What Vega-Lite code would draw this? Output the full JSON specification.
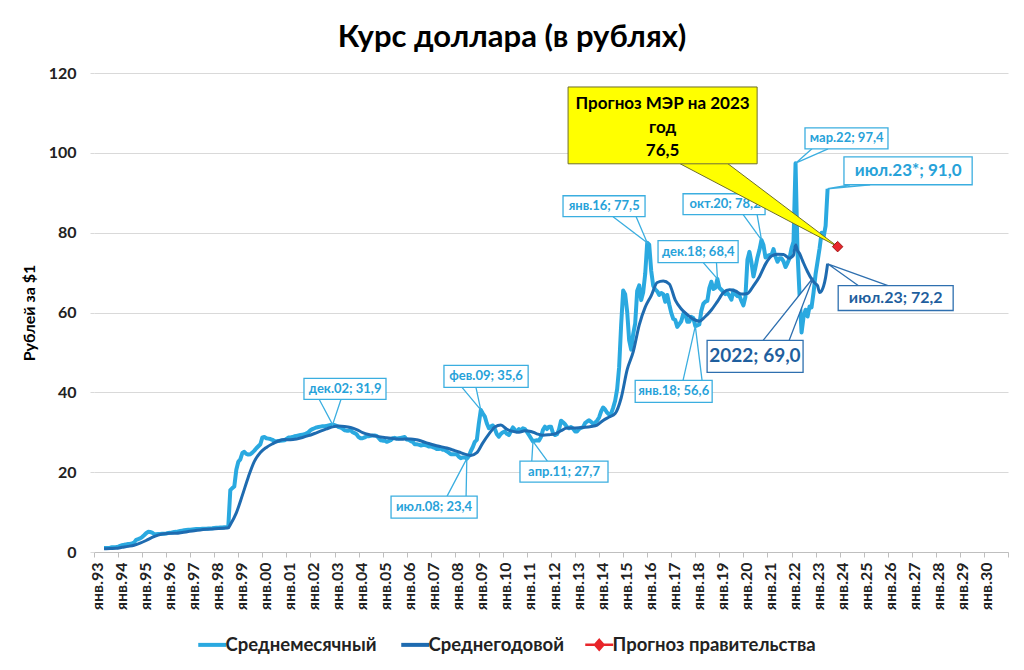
{
  "$schema": "https://vega.github.io/schema/vega-lite/v6.json",
  "width": 914,
  "height": 479,
  "autosize": {"type": "none"},
  "padding": {"left": 94, "top": 73, "right": 16, "bottom": 118},
  "background": "white",
  "config": {"view": {"stroke": null}, "font": "Lato"},
  "title": {"text": "Курс доллара (в рублях)", "font": "Lato", "fontSize": 31, "fontWeight": "bold", "color": "#000000", "anchor": "middle", "dx": -39, "dy": 42, "offset": 29, "baseline": "alphabetic"},
  "datasets": {
    "monthly": [
      {"t":1993.417,"v":1.0},{"t":1993.5,"v":1.02},{"t":1993.583,"v":1.0},{"t":1993.667,"v":1.05},{"t":1993.75,"v":1.18},{"t":1993.833,"v":1.19},{"t":1993.917,"v":1.24},
      {"t":1994,"v":1.32},{"t":1994.083,"v":1.55},{"t":1994.167,"v":1.72},{"t":1994.25,"v":1.8},{"t":1994.333,"v":1.9},{"t":1994.417,"v":1.98},{"t":1994.5,"v":2.05},{"t":1994.583,"v":2.14},{"t":1994.667,"v":2.36},{"t":1994.75,"v":3.05},{"t":1994.833,"v":3.2},{"t":1994.917,"v":3.4},
      {"t":1995,"v":3.75},{"t":1995.083,"v":4.2},{"t":1995.167,"v":4.7},{"t":1995.25,"v":5.05},{"t":1995.333,"v":5.0},{"t":1995.417,"v":4.85},{"t":1995.5,"v":4.5},{"t":1995.583,"v":4.45},{"t":1995.667,"v":4.5},{"t":1995.75,"v":4.5},{"t":1995.833,"v":4.55},{"t":1995.917,"v":4.6},
      {"t":1996,"v":4.65},{"t":1996.083,"v":4.75},{"t":1996.167,"v":4.8},{"t":1996.25,"v":4.9},{"t":1996.333,"v":5.0},{"t":1996.417,"v":5.05},{"t":1996.5,"v":5.15},{"t":1996.583,"v":5.25},{"t":1996.667,"v":5.35},{"t":1996.75,"v":5.45},{"t":1996.833,"v":5.5},{"t":1996.917,"v":5.55},
      {"t":1997,"v":5.6},{"t":1997.083,"v":5.65},{"t":1997.167,"v":5.7},{"t":1997.25,"v":5.75},{"t":1997.333,"v":5.77},{"t":1997.417,"v":5.78},{"t":1997.5,"v":5.8},{"t":1997.583,"v":5.82},{"t":1997.667,"v":5.84},{"t":1997.75,"v":5.86},{"t":1997.833,"v":5.88},{"t":1997.917,"v":5.93},
      {"t":1998,"v":6.0},{"t":1998.083,"v":6.05},{"t":1998.167,"v":6.1},{"t":1998.25,"v":6.12},{"t":1998.333,"v":6.15},{"t":1998.417,"v":6.2},{"t":1998.5,"v":6.23},{"t":1998.583,"v":6.3},{"t":1998.667,"v":15.5},{"t":1998.75,"v":16.0},{"t":1998.833,"v":16.4},{"t":1998.917,"v":20.6},
      {"t":1999,"v":22.6},{"t":1999.083,"v":23.2},{"t":1999.167,"v":24.8},{"t":1999.25,"v":25.1},{"t":1999.333,"v":24.6},{"t":1999.417,"v":24.4},{"t":1999.5,"v":24.5},{"t":1999.583,"v":24.9},{"t":1999.667,"v":25.4},{"t":1999.75,"v":26.0},{"t":1999.833,"v":26.5},{"t":1999.917,"v":27.0},
      {"t":2000,"v":28.7},{"t":2000.083,"v":28.8},{"t":2000.167,"v":28.5},{"t":2000.25,"v":28.4},{"t":2000.333,"v":28.3},{"t":2000.417,"v":28.1},{"t":2000.5,"v":27.8},{"t":2000.583,"v":27.75},{"t":2000.667,"v":27.8},{"t":2000.75,"v":27.85},{"t":2000.833,"v":27.9},{"t":2000.917,"v":28.0},
      {"t":2001,"v":28.3},{"t":2001.083,"v":28.7},{"t":2001.167,"v":28.7},{"t":2001.25,"v":28.8},{"t":2001.333,"v":29.0},{"t":2001.417,"v":29.1},{"t":2001.5,"v":29.2},{"t":2001.583,"v":29.3},{"t":2001.667,"v":29.4},{"t":2001.75,"v":29.5},{"t":2001.833,"v":29.7},{"t":2001.917,"v":30.0},
      {"t":2002,"v":30.5},{"t":2002.083,"v":30.8},{"t":2002.167,"v":31.0},{"t":2002.25,"v":31.2},{"t":2002.333,"v":31.3},{"t":2002.417,"v":31.4},{"t":2002.5,"v":31.5},{"t":2002.583,"v":31.5},{"t":2002.667,"v":31.6},{"t":2002.75,"v":31.7},{"t":2002.833,"v":31.8},{"t":2002.917,"v":31.9},
      {"t":2003,"v":31.8},{"t":2003.083,"v":31.6},{"t":2003.167,"v":31.3},{"t":2003.25,"v":31.2},{"t":2003.333,"v":30.9},{"t":2003.417,"v":30.5},{"t":2003.5,"v":30.4},{"t":2003.583,"v":30.4},{"t":2003.667,"v":30.6},{"t":2003.75,"v":30.0},{"t":2003.833,"v":29.8},{"t":2003.917,"v":29.5},
      {"t":2004,"v":28.8},{"t":2004.083,"v":28.5},{"t":2004.167,"v":28.5},{"t":2004.25,"v":28.7},{"t":2004.333,"v":29.0},{"t":2004.417,"v":29.0},{"t":2004.5,"v":29.1},{"t":2004.583,"v":29.2},{"t":2004.667,"v":29.2},{"t":2004.75,"v":29.1},{"t":2004.833,"v":28.6},{"t":2004.917,"v":28.0},
      {"t":2005,"v":27.9},{"t":2005.083,"v":27.9},{"t":2005.167,"v":27.6},{"t":2005.25,"v":27.8},{"t":2005.333,"v":28.0},{"t":2005.417,"v":28.5},{"t":2005.5,"v":28.6},{"t":2005.583,"v":28.4},{"t":2005.667,"v":28.5},{"t":2005.75,"v":28.6},{"t":2005.833,"v":28.7},{"t":2005.917,"v":28.8},
      {"t":2006,"v":28.2},{"t":2006.083,"v":28.1},{"t":2006.167,"v":27.8},{"t":2006.25,"v":27.6},{"t":2006.333,"v":27.0},{"t":2006.417,"v":27.0},{"t":2006.5,"v":26.9},{"t":2006.583,"v":26.7},{"t":2006.667,"v":26.8},{"t":2006.75,"v":26.8},{"t":2006.833,"v":26.7},{"t":2006.917,"v":26.4},
      {"t":2007,"v":26.5},{"t":2007.083,"v":26.3},{"t":2007.167,"v":26.1},{"t":2007.25,"v":25.8},{"t":2007.333,"v":25.8},{"t":2007.417,"v":25.9},{"t":2007.5,"v":25.6},{"t":2007.583,"v":25.6},{"t":2007.667,"v":25.2},{"t":2007.75,"v":24.9},{"t":2007.833,"v":24.5},{"t":2007.917,"v":24.5},
      {"t":2008,"v":24.5},{"t":2008.083,"v":24.5},{"t":2008.167,"v":23.9},{"t":2008.25,"v":23.5},{"t":2008.333,"v":23.7},{"t":2008.417,"v":23.7},{"t":2008.5,"v":23.4},{"t":2008.583,"v":24.0},{"t":2008.667,"v":25.3},{"t":2008.75,"v":26.3},{"t":2008.833,"v":27.6},{"t":2008.917,"v":28.1},
      {"t":2009,"v":32.2},{"t":2009.083,"v":35.6},{"t":2009.167,"v":34.7},{"t":2009.25,"v":33.9},{"t":2009.333,"v":32.2},{"t":2009.417,"v":31.0},{"t":2009.5,"v":31.5},{"t":2009.583,"v":31.7},{"t":2009.667,"v":30.8},{"t":2009.75,"v":29.5},{"t":2009.833,"v":28.9},{"t":2009.917,"v":29.6},
      {"t":2010,"v":30.0},{"t":2010.083,"v":30.2},{"t":2010.167,"v":29.6},{"t":2010.25,"v":29.3},{"t":2010.333,"v":30.3},{"t":2010.417,"v":31.2},{"t":2010.5,"v":30.6},{"t":2010.583,"v":30.2},{"t":2010.667,"v":30.8},{"t":2010.75,"v":30.4},{"t":2010.833,"v":31.0},{"t":2010.917,"v":30.8},
      {"t":2011,"v":30.1},{"t":2011.083,"v":29.3},{"t":2011.167,"v":28.5},{"t":2011.25,"v":27.7},{"t":2011.333,"v":27.9},{"t":2011.417,"v":28.0},{"t":2011.5,"v":27.9},{"t":2011.583,"v":28.8},{"t":2011.667,"v":30.6},{"t":2011.75,"v":31.4},{"t":2011.833,"v":30.8},{"t":2011.917,"v":31.4},
      {"t":2012,"v":31.4},{"t":2012.083,"v":29.8},{"t":2012.167,"v":29.3},{"t":2012.25,"v":29.5},{"t":2012.333,"v":30.7},{"t":2012.417,"v":32.9},{"t":2012.5,"v":32.5},{"t":2012.583,"v":32.0},{"t":2012.667,"v":31.3},{"t":2012.75,"v":31.0},{"t":2012.833,"v":31.3},{"t":2012.917,"v":30.9},
      {"t":2013,"v":30.2},{"t":2013.083,"v":30.2},{"t":2013.167,"v":30.8},{"t":2013.25,"v":31.1},{"t":2013.333,"v":31.3},{"t":2013.417,"v":32.3},{"t":2013.5,"v":32.7},{"t":2013.583,"v":33.0},{"t":2013.667,"v":32.6},{"t":2013.75,"v":32.1},{"t":2013.833,"v":32.4},{"t":2013.917,"v":32.9},
      {"t":2014,"v":33.7},{"t":2014.083,"v":35.2},{"t":2014.167,"v":36.2},{"t":2014.25,"v":35.7},{"t":2014.333,"v":34.9},{"t":2014.417,"v":34.4},{"t":2014.5,"v":34.7},{"t":2014.583,"v":36.1},{"t":2014.667,"v":37.9},{"t":2014.75,"v":40.8},{"t":2014.833,"v":46.3},{"t":2014.917,"v":57.0},
      {"t":2015,"v":65.5},{"t":2015.083,"v":64.6},{"t":2015.167,"v":60.2},{"t":2015.25,"v":53.0},{"t":2015.333,"v":50.7},{"t":2015.417,"v":54.6},{"t":2015.5,"v":57.3},{"t":2015.583,"v":65.4},{"t":2015.667,"v":66.8},{"t":2015.75,"v":63.1},{"t":2015.833,"v":65.1},{"t":2015.917,"v":69.7},
      {"t":2016,"v":77.5},{"t":2016.083,"v":77.0},{"t":2016.167,"v":70.4},{"t":2016.25,"v":66.7},{"t":2016.333,"v":65.8},{"t":2016.417,"v":65.3},{"t":2016.5,"v":64.4},{"t":2016.583,"v":64.9},{"t":2016.667,"v":64.6},{"t":2016.75,"v":62.7},{"t":2016.833,"v":64.4},{"t":2016.917,"v":62.0},
      {"t":2017,"v":59.9},{"t":2017.083,"v":58.4},{"t":2017.167,"v":58.1},{"t":2017.25,"v":56.4},{"t":2017.333,"v":57.1},{"t":2017.417,"v":57.8},{"t":2017.5,"v":59.7},{"t":2017.583,"v":59.7},{"t":2017.667,"v":57.7},{"t":2017.75,"v":57.7},{"t":2017.833,"v":58.9},{"t":2017.917,"v":58.6},
      {"t":2018,"v":56.6},{"t":2018.083,"v":56.8},{"t":2018.167,"v":57.0},{"t":2018.25,"v":60.4},{"t":2018.333,"v":62.2},{"t":2018.417,"v":62.7},{"t":2018.5,"v":62.9},{"t":2018.583,"v":66.1},{"t":2018.667,"v":67.7},{"t":2018.75,"v":65.9},{"t":2018.833,"v":66.2},{"t":2018.917,"v":68.4},
      {"t":2019,"v":66.2},{"t":2019.083,"v":65.7},{"t":2019.167,"v":65.2},{"t":2019.25,"v":64.6},{"t":2019.333,"v":64.9},{"t":2019.417,"v":64.2},{"t":2019.5,"v":63.2},{"t":2019.583,"v":65.5},{"t":2019.667,"v":64.6},{"t":2019.75,"v":64.1},{"t":2019.833,"v":64.2},{"t":2019.917,"v":62.9},
      {"t":2020,"v":61.8},{"t":2020.083,"v":63.9},{"t":2020.167,"v":73.2},{"t":2020.25,"v":75.2},{"t":2020.333,"v":72.6},{"t":2020.417,"v":69.0},{"t":2020.5,"v":71.3},{"t":2020.583,"v":73.8},{"t":2020.667,"v":75.7},{"t":2020.75,"v":78.2},{"t":2020.833,"v":76.9},{"t":2020.917,"v":73.8},
      {"t":2021,"v":74.2},{"t":2021.083,"v":74.4},{"t":2021.167,"v":74.4},{"t":2021.25,"v":75.9},{"t":2021.333,"v":74.0},{"t":2021.417,"v":72.7},{"t":2021.5,"v":73.6},{"t":2021.583,"v":73.6},{"t":2021.667,"v":72.8},{"t":2021.75,"v":71.4},{"t":2021.833,"v":72.4},{"t":2021.917,"v":73.6},
      {"t":2022,"v":76.1},{"t":2022.083,"v":77.8},{"t":2022.167,"v":97.4},{"t":2022.25,"v":75.0},{"t":2022.333,"v":64.6},{"t":2022.417,"v":55.0},{"t":2022.5,"v":58.9},{"t":2022.583,"v":60.7},{"t":2022.667,"v":59.0},{"t":2022.75,"v":61.5},{"t":2022.833,"v":61.3},{"t":2022.917,"v":65.1},
      {"t":2023,"v":69.6},{"t":2023.083,"v":72.8},{"t":2023.167,"v":76.1},{"t":2023.25,"v":80.0},{"t":2023.333,"v":78.9},{"t":2023.417,"v":81.7},{"t":2023.5,"v":91.0}
    ],
    "yearly": [
      {"t":1993.417,"v":0.8},{"t":1993.667,"v":0.87},{"t":1993.917,"v":0.92},
      {"t":1994.167,"v":1.17},{"t":1994.417,"v":1.41},{"t":1994.667,"v":1.7},{"t":1994.917,"v":2.21},
      {"t":1995.167,"v":2.88},{"t":1995.417,"v":3.65},{"t":1995.667,"v":4.22},{"t":1995.917,"v":4.55},
      {"t":1996.167,"v":4.68},{"t":1996.417,"v":4.69},{"t":1996.667,"v":4.88},{"t":1996.917,"v":5.12},
      {"t":1997.167,"v":5.35},{"t":1997.417,"v":5.54},{"t":1997.667,"v":5.68},{"t":1997.917,"v":5.78},
      {"t":1998.167,"v":5.88},{"t":1998.417,"v":5.98},{"t":1998.583,"v":6.06},{"t":1998.667,"v":6.86},{"t":1998.917,"v":9.8},
      {"t":1999.167,"v":14.18},{"t":1999.417,"v":18.81},{"t":1999.667,"v":22.71},{"t":1999.917,"v":24.92},
      {"t":2000.167,"v":26.2},{"t":2000.417,"v":27.09},{"t":2000.667,"v":27.8},{"t":2000.917,"v":28.16},
      {"t":2001.167,"v":28.13},{"t":2001.417,"v":28.31},{"t":2001.667,"v":28.69},{"t":2001.917,"v":29.14},
      {"t":2002.167,"v":29.69},{"t":2002.417,"v":30.28},{"t":2002.667,"v":30.83},{"t":2002.917,"v":31.35},
      {"t":2003.167,"v":31.55},{"t":2003.417,"v":31.44},{"t":2003.667,"v":31.18},{"t":2003.917,"v":30.67},
      {"t":2004.167,"v":29.93},{"t":2004.417,"v":29.43},{"t":2004.667,"v":29.11},{"t":2004.917,"v":28.81},
      {"t":2005.167,"v":28.61},{"t":2005.417,"v":28.41},{"t":2005.667,"v":28.24},{"t":2005.917,"v":28.28},
      {"t":2006.167,"v":28.33},{"t":2006.417,"v":28.11},{"t":2006.667,"v":27.68},{"t":2006.917,"v":27.17},
      {"t":2007.167,"v":26.73},{"t":2007.417,"v":26.39},{"t":2007.667,"v":26.06},{"t":2007.917,"v":25.56},
      {"t":2008.167,"v":25.06},{"t":2008.417,"v":24.51},{"t":2008.667,"v":24.2},{"t":2008.917,"v":24.88},
      {"t":2009.167,"v":27.34},{"t":2009.417,"v":29.53},{"t":2009.667,"v":31.3},{"t":2009.917,"v":31.8},
      {"t":2010.167,"v":30.74},{"t":2010.417,"v":30.22},{"t":2010.667,"v":30.02},{"t":2010.917,"v":30.37},
      {"t":2011.167,"v":30.21},{"t":2011.417,"v":29.61},{"t":2011.667,"v":29.25},{"t":2011.917,"v":29.37},
      {"t":2012.167,"v":29.58},{"t":2012.417,"v":30.38},{"t":2012.667,"v":31.08},{"t":2012.917,"v":31.05},
      {"t":2013.167,"v":31.11},{"t":2013.417,"v":31.24},{"t":2013.667,"v":31.45},{"t":2013.917,"v":31.8},
      {"t":2014.167,"v":32.96},{"t":2014.417,"v":33.82},{"t":2014.667,"v":34.68},{"t":2014.917,"v":38.58},
      {"t":2015.167,"v":45.68},{"t":2015.417,"v":50.12},{"t":2015.667,"v":56.85},{"t":2015.917,"v":61.33},
      {"t":2016.167,"v":64.22},{"t":2016.417,"v":67.51},{"t":2016.667,"v":67.88},{"t":2016.917,"v":67.14},
      {"t":2017.167,"v":63.1},{"t":2017.417,"v":60.89},{"t":2017.667,"v":59.49},{"t":2017.917,"v":58.33},
      {"t":2018.167,"v":57.83},{"t":2018.417,"v":59.0},{"t":2018.667,"v":60.63},{"t":2018.917,"v":62.74},
      {"t":2019.167,"v":64.97},{"t":2019.417,"v":65.67},{"t":2019.667,"v":65.38},{"t":2019.917,"v":64.61},
      {"t":2020.167,"v":64.76},{"t":2020.417,"v":66.68},{"t":2020.667,"v":68.98},{"t":2020.917,"v":72.12},
      {"t":2021.167,"v":74.13},{"t":2021.417,"v":74.61},{"t":2021.667,"v":74.54},{"t":2021.917,"v":73.58},
      {"t":2022,"v":73.9},{"t":2022.083,"v":74.4},{"t":2022.167,"v":77.0},{"t":2022.25,"v":75.5},{"t":2022.333,"v":74.8},{"t":2022.417,"v":73.6},{"t":2022.5,"v":72.4},{"t":2022.667,"v":70.2},{"t":2022.833,"v":68.4},{"t":2022.917,"v":67.7},
      {"t":2023,"v":67.2},{"t":2023.083,"v":66.7},{"t":2023.167,"v":65.0},{"t":2023.25,"v":65.4},{"t":2023.333,"v":66.6},{"t":2023.417,"v":68.8},{"t":2023.5,"v":72.2}
    ],
    "forecast": [{"t": 2023.917, "v": 76.5}],
    "pointers": [
      {"id":"A","kind":"m","ord":1,"t":2002.36,"v":38.25},{"id":"A","kind":"m","ord":2,"t":2002.92,"v":31.9},{"id":"A","kind":"m","ord":3,"t":2003.27,"v":38.25},
      {"id":"B","kind":"m","ord":1,"t":2008.3,"v":41.25},{"id":"B","kind":"m","ord":2,"t":2009.08,"v":35.6},{"id":"B","kind":"m","ord":3,"t":2008.88,"v":41.25},
      {"id":"C","kind":"m","ord":1,"t":2007.68,"v":14.0},{"id":"C","kind":"m","ord":2,"t":2008.5,"v":23.4},{"id":"C","kind":"m","ord":3,"t":2008.47,"v":14.0},
      {"id":"D","kind":"m","ord":1,"t":2011.2,"v":22.75},{"id":"D","kind":"m","ord":2,"t":2011.25,"v":27.7},{"id":"D","kind":"m","ord":3,"t":2011.85,"v":22.75},
      {"id":"E","kind":"m","ord":1,"t":2014.58,"v":84.0},{"id":"E","kind":"m","ord":2,"t":2016.0,"v":77.5},{"id":"E","kind":"m","ord":3,"t":2015.54,"v":84.0},
      {"id":"F","kind":"m","ord":1,"t":2018.33,"v":72.5},{"id":"F","kind":"m","ord":2,"t":2018.92,"v":68.4},{"id":"F","kind":"m","ord":3,"t":2018.88,"v":72.5},
      {"id":"G","kind":"m","ord":1,"t":2017.49,"v":43.0},{"id":"G","kind":"m","ord":2,"t":2018.0,"v":56.6},{"id":"G","kind":"m","ord":3,"t":2018.28,"v":43.0},
      {"id":"H","kind":"m","ord":1,"t":2019.99,"v":84.5},{"id":"H","kind":"m","ord":2,"t":2020.75,"v":78.2},{"id":"H","kind":"m","ord":3,"t":2020.57,"v":84.5},
      {"id":"I","kind":"m","ord":1,"t":2022.85,"v":101.0},{"id":"I","kind":"m","ord":2,"t":2022.17,"v":97.4},{"id":"I","kind":"m","ord":3,"t":2023.52,"v":101.0},
      {"id":"J","kind":"m","ord":1,"t":2024.43,"v":92.0},{"id":"J","kind":"m","ord":2,"t":2023.5,"v":91.0},{"id":"J","kind":"m","ord":3,"t":2025.27,"v":92.0},
      {"id":"K","kind":"y","ord":1,"t":2024.77,"v":66.75},{"id":"K","kind":"y","ord":2,"t":2023.5,"v":72.2},{"id":"K","kind":"y","ord":3,"t":2026.01,"v":66.75},
      {"id":"L","kind":"y","ord":1,"t":2020.82,"v":53.0},{"id":"L","kind":"y","ord":2,"t":2022.9,"v":68.7},{"id":"L","kind":"y","ord":3,"t":2021.9,"v":53.0},
      {"id":"M","kind":"f","ord":1,"t":2017.37,"v":97.25},{"id":"M","kind":"f","ord":2,"t":2023.92,"v":76.5},{"id":"M","kind":"f","ord":3,"t":2019.36,"v":97.25}
    ],
    "boxes": [
      {"kind":"m","t":2001.73,"t2":2005.14,"v":38.25,"v2":43.5},
      {"kind":"m","t":2007.55,"t2":2011.05,"v":41.25,"v2":46.75},
      {"kind":"m","t":2005.35,"t2":2008.93,"v":8.5,"v2":14.0},
      {"kind":"m","t":2010.71,"t2":2014.37,"v":17.5,"v2":22.75},
      {"kind":"m","t":2012.5,"t2":2015.91,"v":84.0,"v2":89.25},
      {"kind":"m","t":2016.45,"t2":2019.78,"v":72.5,"v2":78.0},
      {"kind":"m","t":2015.5,"t2":2018.7,"v":37.5,"v2":43.0},
      {"kind":"m","t":2017.49,"t2":2020.9,"v":84.5,"v2":89.75},
      {"kind":"m","t":2022.56,"t2":2026.01,"v":101.0,"v2":106.25},
      {"kind":"m","t":2024.18,"t2":2029.51,"v":92.0,"v2":99.0},
      {"kind":"y","t":2023.94,"t2":2028.72,"v":60.5,"v2":66.75},
      {"kind":"y","t":2018.49,"t2":2022.48,"v":45.0,"v2":53.0},
      {"kind":"f","t":2012.71,"t2":2020.57,"v":97.25,"v2":116.5}
    ],
    "labels": [
      {"kind":"m","t":2003.44,"v":40.9,"text":"дек.02; 31,9"},
      {"kind":"m","t":2009.3,"v":44.0,"text":"фев.09; 35,6"},
      {"kind":"m","t":2007.14,"v":11.25,"text":"июл.08; 23,4"},
      {"kind":"m","t":2012.54,"v":20.1,"text":"апр.11; 27,7"},
      {"kind":"m","t":2014.21,"v":86.6,"text":"янв.16; 77,5"},
      {"kind":"m","t":2018.12,"v":75.25,"text":"дек.18; 68,4"},
      {"kind":"m","t":2017.1,"v":40.25,"text":"янв.18; 56,6"},
      {"kind":"m","t":2019.24,"v":87.1,"text":"окт.20; 78,2"},
      {"kind":"m","t":2024.29,"v":103.6,"text":"мар.22; 97,4"},
      {"kind":"m2","t":2026.85,"v":95.5,"text":"июл.23*; 91,0"},
      {"kind":"y","t":2026.33,"v":63.6,"text":"июл.23; 72,2"},
      {"kind":"y2","t":2020.48,"v":49.0,"text":"2022; 69,0"},
      {"kind":"f","t":2016.64,"v":112.25,"text":"Прогноз МЭР на 2023"},
      {"kind":"f","t":2016.64,"v":106.25,"text":"год"},
      {"kind":"f","t":2016.64,"v":100.5,"text":"76,5"}
    ]
  },
  "encoding": {
    "x": {
      "field": "t", "type": "quantitative",
      "scale": {"domain": [1993, 2031], "nice": false, "zero": false},
      "axis": {
        "title": null, "grid": false,
        "values": [1993,1994,1995,1996,1997,1998,1999,2000,2001,2002,2003,2004,2005,2006,2007,2008,2009,2010,2011,2012,2013,2014,2015,2016,2017,2018,2019,2020,2021,2022,2023,2024,2025,2026,2027,2028,2029,2030,2031],
        "labelExpr": "datum.value > 2030 ? '' : 'янв.' + substring(toString(datum.value), 2, 4)",
        "labelAngle": -90, "labelFont": "Lato", "labelFontSize": 16, "labelFontWeight": "bold", "labelColor": "#222222",
        "labelPadding": 5, "labelOffset": 3, "labelOverlap": false, "labelBound": false, "labelFlush": false,
        "ticks": true, "tickSize": 5, "tickColor": "#BFBFBF", "domainColor": "#BFBFBF", "domainWidth": 1
      }
    },
    "y": {
      "field": "v", "type": "quantitative",
      "scale": {"domain": [0, 120], "nice": false, "zero": true},
      "axis": {
        "title": "Рублей за $1", "titleFont": "Lato", "titleFontSize": 16, "titleFontWeight": "bold", "titleColor": "#000000", "titlePadding": 11,
        "values": [0, 20, 40, 60, 80, 100, 120],
        "labelFont": "Lato", "labelFontSize": 16, "labelFontWeight": "bold", "labelColor": "#222222", "labelPadding": 14,
        "ticks": true, "tickSize": 4, "tickColor": "#D9D9D9", "domain": false,
        "grid": true, "gridColor": "#D9D9D9", "gridWidth": 1
      }
    }
  },
  "layer": [
    {
      "data": {"name": "monthly"},
      "mark": {"type": "line", "strokeWidth": 4, "strokeJoin": "round"},
      "encoding": {
        "color": {
          "datum": "Среднемесячный", "type": "nominal",
          "scale": {"domain": ["Среднемесячный", "Среднегодовой", "Прогноз правительства"], "range": ["#2AA9E0", "#1E6BB0", "#E8262B"]},
          "legend": {
            "orient": "none", "legendX": 109, "legendY": 562, "direction": "horizontal", "title": null,
            "symbolType": "stroke", "symbolSize": 784, "symbolStrokeWidth": 4,
            "labelFont": "Lato", "labelFontSize": 18.5, "labelFontWeight": "bold", "labelColor": "#222222",
            "labelOffset": 4, "columnPadding": 16, "labelLimit": 400,
            "encode": {
              "symbols": {
                "update": {
                  "shape": {"signal": "datum.label === 'Прогноз правительства' ? 'M-1,0L-0.3,0M0.3,0L1,0M0,-0.34L0.3,0L0,0.34L-0.3,0Z' : 'stroke'"},
                  "fill": {"signal": "datum.label === 'Прогноз правительства' ? '#E8262B' : 'transparent'"},
                  "stroke": {"signal": "datum.label === 'Прогноз правительства' ? '#8064A2' : (datum.label === 'Среднемесячный' ? '#2AA9E0' : '#1E6BB0')"},
                  "strokeWidth": {"signal": "datum.label === 'Прогноз правительства' ? 2.5 : 4"}
                }
              }
            }
          }
        }
      }
    },
    {
      "data": {"name": "yearly"},
      "mark": {"type": "line", "strokeWidth": 3, "interpolate": "monotone"},
      "encoding": {"color": {"datum": "Среднегодовой", "type": "nominal"}}
    },
    {
      "data": {"name": "pointers"},
      "transform": [{"filter": "datum.kind === 'm'"}],
      "mark": {"type": "line", "fill": "white", "stroke": "#3BAEE0", "strokeWidth": 1.3},
      "encoding": {"detail": {"field": "id"}, "order": {"field": "ord", "type": "quantitative"}}
    },
    {
      "data": {"name": "pointers"},
      "transform": [{"filter": "datum.kind === 'y'"}],
      "mark": {"type": "line", "fill": "white", "stroke": "#2E6FAF", "strokeWidth": 1.3},
      "encoding": {"detail": {"field": "id"}, "order": {"field": "ord", "type": "quantitative"}}
    },
    {
      "data": {"name": "boxes"},
      "transform": [{"filter": "datum.kind === 'm'"}],
      "mark": {"type": "rect", "fill": "white", "stroke": "#3BAEE0", "strokeWidth": 1.3},
      "encoding": {"x2": {"field": "t2"}, "y2": {"field": "v2"}}
    },
    {
      "data": {"name": "boxes"},
      "transform": [{"filter": "datum.kind === 'y'"}],
      "mark": {"type": "rect", "fill": "white", "stroke": "#2E6FAF", "strokeWidth": 1.3},
      "encoding": {"x2": {"field": "t2"}, "y2": {"field": "v2"}}
    },
    {
      "data": {"name": "labels"},
      "transform": [{"filter": "datum.kind === 'm'"}],
      "mark": {"type": "text", "font": "Lato", "fontSize": 13, "fontWeight": "bold", "color": "#27A2D9", "align": "center", "baseline": "middle"},
      "encoding": {"text": {"field": "text"}}
    },
    {
      "data": {"name": "labels"},
      "transform": [{"filter": "datum.kind === 'm2'"}],
      "mark": {"type": "text", "font": "Lato", "fontSize": 17, "fontWeight": "bold", "color": "#27A2D9", "align": "center", "baseline": "middle"},
      "encoding": {"text": {"field": "text"}}
    },
    {
      "data": {"name": "labels"},
      "transform": [{"filter": "datum.kind === 'y'"}],
      "mark": {"type": "text", "font": "Lato", "fontSize": 16, "fontWeight": "bold", "color": "#1F5F9E", "align": "center", "baseline": "middle"},
      "encoding": {"text": {"field": "text"}}
    },
    {
      "data": {"name": "labels"},
      "transform": [{"filter": "datum.kind === 'y2'"}],
      "mark": {"type": "text", "font": "Lato", "fontSize": 19, "fontWeight": "bold", "color": "#1F5F9E", "align": "center", "baseline": "middle"},
      "encoding": {"text": {"field": "text"}}
    },
    {
      "data": {"name": "pointers"},
      "transform": [{"filter": "datum.kind === 'f'"}],
      "mark": {"type": "line", "fill": "#FFFF00", "stroke": "#6E6E2A", "strokeWidth": 1},
      "encoding": {"detail": {"field": "id"}, "order": {"field": "ord", "type": "quantitative"}}
    },
    {
      "data": {"name": "boxes"},
      "transform": [{"filter": "datum.kind === 'f'"}],
      "mark": {"type": "rect", "fill": "#FFFF00", "stroke": "#6E6E2A", "strokeWidth": 1},
      "encoding": {"x2": {"field": "t2"}, "y2": {"field": "v2"}}
    },
    {
      "data": {"name": "labels"},
      "transform": [{"filter": "datum.kind === 'f'"}],
      "mark": {"type": "text", "font": "Lato", "fontSize": 17, "fontWeight": "bold", "color": "#000000", "align": "center", "baseline": "middle"},
      "encoding": {"text": {"field": "text"}}
    },
    {
      "data": {"name": "forecast"},
      "mark": {"type": "point", "shape": "diamond", "filled": true, "size": 110, "stroke": "#A01818", "strokeWidth": 1, "opacity": 1},
      "encoding": {"color": {"datum": "Прогноз правительства", "type": "nominal"}}
    }
  ]
}
